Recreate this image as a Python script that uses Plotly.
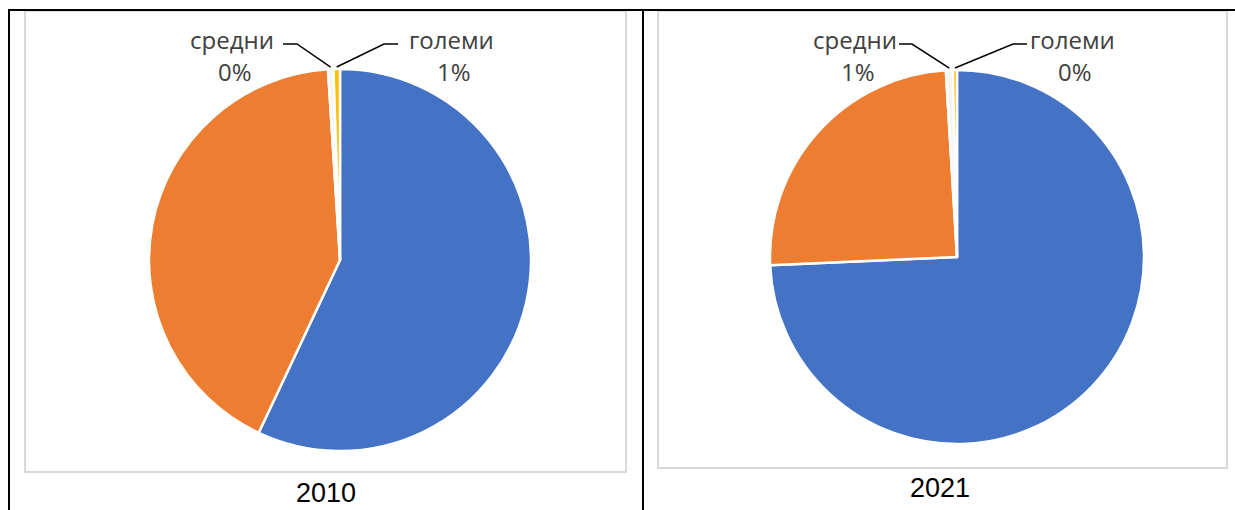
import math
import plotly.graph_objects as go

# ---- data ----
categories = ["микро", "мали", "средни", "големи"]
values_2010 = [57.0, 42.0, 0.45, 0.55]
values_2021 = [74.3, 24.75, 0.6, 0.35]
years = ["2010", "2021"]
colors = ["#4472C4", "#ED7D31", "#F4F4F4", "#FFC000"]
labelled = ["средни", "големи"]

W, H = 1235, 510

# pie geometry in pixels (center x, center y from top, radius)
geo = [(340, 260, 191), (957, 257, 187)]

fig = go.Figure()

def dom(cx, cy, r):
    return dict(x=[(cx - r) / W, (cx + r) / W], y=[1 - (cy + r) / H, 1 - (cy - r) / H])

for vals, (cx, cy, r), yr in zip([values_2010, values_2021], geo, years):
    fig.add_trace(go.Pie(
        labels=categories, values=vals, sort=False, direction="clockwise", rotation=0,
        marker=dict(colors=colors, line=dict(color="white", width=2.5)),
        textinfo="none", hoverinfo="label+percent", domain=dom(cx, cy, r), showlegend=False,
        name=yr,
    ))

def px(x, y):
    return x / W, 1 - y / H

shapes = []
annotations = []

label_layout = [
    {"средни": (232, 283, 297), "големи": (451, 398, 384)},
    {"средни": (855, 899, 912), "големи": (1072, 1027, 1013)},
]

label_font = dict(family="Open Sans, Noto Sans, sans-serif", size=24, color="#404040")

for vals, (cx, cy, r), lay in zip([values_2010, values_2021], geo, label_layout):
    total = sum(vals)
    cum = 0.0
    mids = {}
    for c, v in zip(categories, vals):
        mids[c] = (cum + v / 2) / total * 2 * math.pi
        cum += v
    for c in labelled:
        v = vals[categories.index(c)]
        pct = round(v / total * 100)
        tx, l0, l1 = lay[c]
        annotations.append(dict(x=tx / W, y=1 - 40 / H, xref="paper", yref="paper", text=c,
                                showarrow=False, font=label_font, xanchor="center", yanchor="middle"))
        annotations.append(dict(x=(tx + 3) / W, y=1 - 72 / H, xref="paper", yref="paper", text=f"{pct}%",
                                showarrow=False, font=label_font, xanchor="center", yanchor="middle"))
        ang = mids[c]
        ex = cx + (r + 2) * math.sin(ang)
        ey = cy - (r + 2) * math.cos(ang)
        ax0, ay0 = px(l0, 44)
        ax1, ay1 = px(l1, 44)
        ax2, ay2 = px(ex, ey)
        shapes.append(dict(type="path", xref="paper", yref="paper",
                           path=f"M {ax0} {ay0} L {ax1} {ay1} L {ax2} {ay2}",
                           line=dict(color="#000000", width=1.5)))

# chart area borders (light gray)
for x0, y0, x1, y1 in [(25, 11, 626, 472), (658, 11, 1227, 468)]:
    a, b = px(x0, y0)
    c, d = px(x1, y1)
    shapes.append(dict(type="rect", xref="paper", yref="paper", x0=a, y0=d, x1=c, y1=b,
                       line=dict(color="#D9D9D9", width=2), fillcolor="rgba(0,0,0,0)", layer="below"))

# table borders (black)
for (x0, y0, x1, y1) in [(8, 10, 1235, 10), (9, 10, 9, 510), (643, 10, 643, 510)]:
    a, b = px(x0, y0)
    c, d = px(x1, y1)
    shapes.append(dict(type="line", xref="paper", yref="paper", x0=a, y0=b, x1=c, y1=d,
                       line=dict(color="black", width=2)))

# captions
for yr, (x, y) in zip(years, [(326, 493), (940, 488)]):
    annotations.append(dict(x=x / W, y=1 - y / H, xref="paper", yref="paper", text=yr, showarrow=False,
                            font=dict(family="Liberation Sans, Arial, sans-serif", size=27, color="black"),
                            xanchor="center", yanchor="middle"))

fig.update_layout(width=W, height=H, margin=dict(l=0, r=0, t=0, b=0),
                  paper_bgcolor="white", plot_bgcolor="white",
                  shapes=shapes, annotations=annotations)

fig.write_html("out.html", config={"displayModeBar": False})

# remove default page margin so the figure sits at the window's top-left corner
with open("out.html", "r", encoding="utf-8") as f:
    html = f.read()
html = html.replace("<head>", "<head><style>html,body{margin:0;padding:0;overflow:hidden;}</style>", 1)
with open("out.html", "w", encoding="utf-8") as f:
    f.write(html)
